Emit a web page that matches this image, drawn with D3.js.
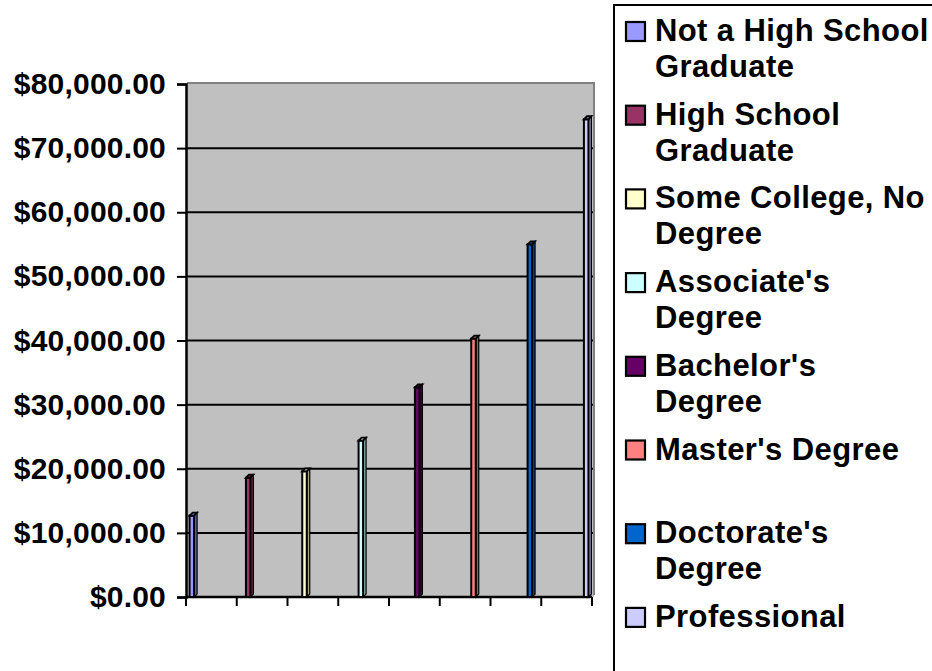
<!DOCTYPE html>
<html>
<head>
<meta charset="utf-8">
<script src="https://cdn.jsdelivr.net/npm/d3@7"></script>
<style>
  html, body { margin: 0; padding: 0; background: #ffffff; }
  svg { display: block; }
  text { font-family: "Liberation Sans", Arial, sans-serif; font-weight: bold; fill: #000; }
</style>
</head>
<body>
<svg id="chart" width="932" height="671"></svg>
<script>
// ---- data ----
const categories = ["1", "2", "3", "4", "5", "6", "7", "8"];
const seriesNames = [
  "Not a High School Graduate",
  "High School Graduate",
  "Some College, No Degree",
  "Associate's Degree",
  "Bachelor's Degree",
  "Master's Degree",
  "Doctorate's Degree",
  "Professional"
];
const legendLines = [
  ["Not a High School", "Graduate"],
  ["High School", "Graduate"],
  ["Some College, No", "Degree"],
  ["Associate's", "Degree"],
  ["Bachelor's", "Degree"],
  ["Master's Degree", ""],
  ["Doctorate's", "Degree"],
  ["Professional", ""]
];
const earnings = [12700, 18600, 19600, 24400, 32700, 40300, 55000, 74500];
const seriesColors = ["#9999FF", "#993366", "#FFFFCC", "#CCFFFF", "#660066", "#FF8080", "#0066CC", "#CCCCFF"];
const yTicks = [0, 10000, 20000, 30000, 40000, 50000, 60000, 70000, 80000];

// ---- layout ----
const svg = d3.select("#chart");
const plot = { left: 186, right: 592, top: 84, bottom: 597 };

const y = d3.scaleLinear().domain([0, 80000]).range([plot.bottom, plot.top]);
const x0 = d3.scaleBand().domain(categories).range([plot.left, plot.right]).padding(0);
const bw = x0.bandwidth();
const x1 = d3.scaleBand().domain(seriesNames).range([bw * 0.06, bw * 0.94]).padding(0);

// back wall
svg.append("rect")
  .attr("x", plot.left).attr("y", plot.top - 1)
  .attr("width", plot.right - plot.left + 2).attr("height", plot.bottom - plot.top + 1)
  .attr("fill", "#C0C0C0");
// wall top & right edges (gray)
svg.append("path")
  .attr("d", `M${plot.left + 1},${plot.top - 1} H${plot.right + 2} V${plot.bottom - 2}`)
  .attr("fill", "none").attr("stroke", "#808080").attr("stroke-width", 2);

// gridlines
svg.append("g").selectAll("line")
  .data(yTicks.filter(d => d > 0 && d < 80000))
  .join("line")
  .attr("x1", plot.left).attr("x2", plot.right + 1)
  .attr("y1", d => y(d)).attr("y2", d => y(d))
  .attr("stroke", "#000").attr("stroke-width", 2);

// y axis
const yAxis = d3.axisLeft(y).tickValues(yTicks)
  .tickFormat(d => "$" + d3.format(",.2f")(d))
  .tickSize(9).tickPadding(11);
const gy = svg.append("g").attr("transform", `translate(${plot.left},0)`).call(yAxis);
gy.select(".domain").attr("stroke", "#000").attr("stroke-width", 2.5);
gy.selectAll(".tick line").attr("stroke", "#000").attr("stroke-width", 2);
gy.selectAll(".tick text")
  .style("font-family", '"Liberation Sans", Arial, sans-serif')
  .style("font-weight", "bold")
  .style("font-size", "30px")
  .style("letter-spacing", "0.2px")
  .attr("fill", "#000");

// x axis (category boundary ticks, no labels)
const boundaries = categories.map(c => x0(c)).concat([plot.right]);
svg.append("line")
  .attr("x1", plot.left).attr("x2", plot.right)
  .attr("y1", plot.bottom).attr("y2", plot.bottom)
  .attr("stroke", "#000").attr("stroke-width", 2.5);
svg.append("g").selectAll("line")
  .data(boundaries)
  .join("line")
  .attr("x1", d => d).attr("x2", d => d)
  .attr("y1", plot.bottom).attr("y2", plot.bottom + 9)
  .attr("stroke", "#000").attr("stroke-width", 2);

// bars (3D-style thin columns)
const depth = 3;
const barW = 4.5;
const bars = svg.append("g").selectAll("g")
  .data(seriesNames.map((s, i) => ({ s, i, v: earnings[i], c: categories[i] })))
  .join("g");
bars.each(function (d) {
  const g = d3.select(this);
  const cx = x0(d.c) + x1(d.s) + x1.bandwidth() / 2;
  const xl = cx - barW / 2;
  const yt = y(d.v);
  // side face
  g.append("polygon")
    .attr("points", [[xl + barW, yt], [xl + barW + depth, yt - depth], [xl + barW + depth, plot.bottom - depth], [xl + barW, plot.bottom]].join(" "))
    .attr("fill", d3.color(seriesColors[d.i]).darker(1.2)).attr("stroke", "#000").attr("stroke-width", 1.2);
  // front face
  g.append("rect")
    .attr("x", xl).attr("y", yt)
    .attr("width", barW).attr("height", plot.bottom - yt)
    .attr("fill", seriesColors[d.i]).attr("stroke", "#000").attr("stroke-width", 2);
  // top face
  g.append("polygon")
    .attr("points", [[xl, yt], [xl + depth, yt - depth], [xl + barW + depth, yt - depth], [xl + barW, yt]].join(" "))
    .attr("fill", d3.color(seriesColors[d.i]).darker(0.8)).attr("stroke", "#000").attr("stroke-width", 1.8);
});

// legend
svg.append("rect")
  .attr("x", 614).attr("y", 5)
  .attr("width", 340).attr("height", 700)
  .attr("fill", "#fff").attr("stroke", "#000").attr("stroke-width", 2);

const pitch = 83.7;
const lg = svg.append("g").selectAll("g")
  .data(seriesNames.map((s, i) => ({ s, i })))
  .join("g")
  .attr("transform", d => `translate(0,${41 + pitch * d.i})`);
lg.append("rect")
  .attr("x", 626).attr("y", -19)
  .attr("width", 19).attr("height", 19)
  .attr("fill", d => seriesColors[d.i]).attr("stroke", "#000").attr("stroke-width", 2.2);
lg.append("text")
  .attr("x", 655).attr("y", 0)
  .style("font-size", "31px")
  .style("letter-spacing", "0.4px")
  .text(d => legendLines[d.i][0]);
lg.append("text")
  .attr("x", 655).attr("y", 36)
  .style("font-size", "31px")
  .style("letter-spacing", "0.4px")
  .text(d => legendLines[d.i][1]);
</script>
</body>
</html>
